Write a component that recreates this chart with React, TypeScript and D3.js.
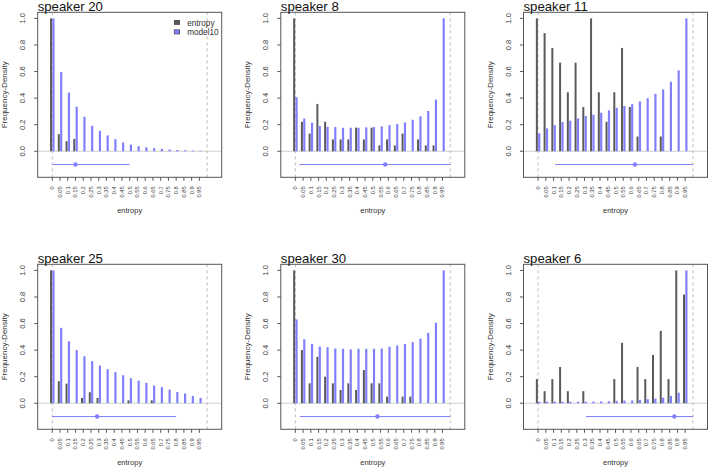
import { useEffect, useRef } from 'react';
import * as d3 from 'd3';

// bins along the entropy axis
const bins = [0, 0.05, 0.1, 0.15, 0.2, 0.25, 0.3, 0.35, 0.4, 0.45, 0.5, 0.55, 0.6, 0.65, 0.7, 0.75, 0.8, 0.85, 0.9, 0.95];
const binLabels = ["0", "0.05", "0.1", "0.15", "0.2", "0.25", "0.3", "0.35", "0.4", "0.45", "0.5", "0.55", "0.6", "0.65", "0.7", "0.75", "0.8", "0.85", "0.9", "0.95"];
const yTicks = [0, 0.2, 0.4, 0.6, 0.8, 1.0];
const yTickLabels = ["0.0", "0.2", "0.4", "0.6", "0.8", "1.0"];
const seriesNames = ["entropy", "model10"];

const speaker20Entropy = [1, 0.129, 0.076, 0.093, 0, 0, 0, 0, 0, 0, 0, 0, 0, 0, 0, 0, 0, 0, 0, 0];
const speaker20Model = [1, 0.596, 0.442, 0.336, 0.26, 0.192, 0.154, 0.119, 0.091, 0.066, 0.05, 0.038, 0.03, 0.023, 0.018, 0.013, 0.01, 0.008, 0.005, 0.004];
const speaker20Interval = [0, 0.5, 0.15];

const speaker8Entropy = [1, 0.222, 0.133, 0.356, 0.222, 0.089, 0.089, 0.089, 0.178, 0.089, 0.178, 0.044, 0.089, 0.044, 0.133, 0, 0.089, 0.044, 0.044, 0];
const speaker8Model = [0.407, 0.247, 0.215, 0.19, 0.184, 0.182, 0.177, 0.177, 0.177, 0.18, 0.182, 0.187, 0.197, 0.205, 0.217, 0.237, 0.263, 0.303, 0.389, 1];
const speaker8Interval = [0.025, 1, 0.58];

const speaker11Entropy = [1, 0.889, 0.778, 0.667, 0.444, 0.667, 0.333, 1, 0.444, 0.222, 0.444, 0.778, 0.333, 0.111, 0, 0, 0.111, 0, 0, 0];
const speaker11Model = [0.134, 0.172, 0.197, 0.22, 0.23, 0.247, 0.265, 0.275, 0.29, 0.308, 0.328, 0.341, 0.354, 0.376, 0.399, 0.432, 0.465, 0.523, 0.609, 1];
const speaker11Interval = [0.11, 1, 0.625];

const speaker25Entropy = [1, 0.166, 0.148, 0, 0.04, 0.083, 0.04, 0, 0, 0, 0.022, 0, 0, 0.022, 0, 0, 0, 0, 0, 0];
const speaker25Model = [1, 0.568, 0.467, 0.4, 0.354, 0.317, 0.284, 0.256, 0.234, 0.211, 0.188, 0.171, 0.153, 0.133, 0.121, 0.103, 0.085, 0.073, 0.055, 0.04];
const speaker25Interval = [0, 0.8, 0.29];

const speaker30Entropy = [1, 0.4, 0.15, 0.35, 0.2, 0.15, 0.1, 0.15, 0.1, 0.25, 0.15, 0.15, 0.05, 0, 0.05, 0.05, 0, 0, 0, 0];
const speaker30Model = [0.631, 0.482, 0.447, 0.427, 0.422, 0.412, 0.41, 0.405, 0.41, 0.41, 0.41, 0.412, 0.425, 0.435, 0.445, 0.46, 0.487, 0.53, 0.606, 1];
const speaker30Interval = [0.03, 1, 0.53];

const speaker6Entropy = [0.182, 0.091, 0.182, 0.273, 0.091, 0, 0.091, 0, 0, 0, 0.182, 0.455, 0, 0.273, 0.182, 0.364, 0.545, 0.182, 1, 0.818];
const speaker6Model = [0.012, 0.012, 0.012, 0.012, 0.012, 0.012, 0.012, 0.013, 0.014, 0.015, 0.018, 0.02, 0.022, 0.026, 0.03, 0.035, 0.042, 0.055, 0.08, 1];
const speaker6Interval = [0.31, 1, 0.88];

const panels = [
  { title: "speaker 20", entropy: speaker20Entropy, model: speaker20Model, interval: speaker20Interval, legend: true },
  { title: "speaker 8", entropy: speaker8Entropy, model: speaker8Model, interval: speaker8Interval },
  { title: "speaker 11", entropy: speaker11Entropy, model: speaker11Model, interval: speaker11Interval },
  { title: "speaker 25", entropy: speaker25Entropy, model: speaker25Model, interval: speaker25Interval },
  { title: "speaker 30", entropy: speaker30Entropy, model: speaker30Model, interval: speaker30Interval },
  { title: "speaker 6", entropy: speaker6Entropy, model: speaker6Model, interval: speaker6Interval },
];

const W = 708;
const H = 470;
const colLefts = [37.7, 280.8, 523.5];
const rowTops = [12.3, 264.3];
const boxW = 184;
const boxH = 165;
const GREY = "#5a5a5a";
const BLUE = "#8080ff";
const FONT = "Liberation Sans, Arial, Helvetica, sans-serif";

const App = () => {
  const svgRef = useRef(null);

  useEffect(() => {
    const svg = d3.select(svgRef.current);
    svg.selectAll("*").remove();
    svg.attr("width", W).attr("height", H).style("font-family", FONT);

    svg.append("rect").attr("width", W).attr("height", H).attr("fill", "white");

    panels.forEach((p, i) => {
      const left = colLefts[i % 3];
      const top = rowTops[Math.floor(i / 3)];
      const g = svg.append("g");

      // R style: xlim c(-0.05, 1.05), ylim c(-0.15, 1), 4% extension
      const x = d3.scaleLinear().domain([-0.094, 1.094]).range([left, left + boxW]);
      const y = d3.scaleLinear().domain([-0.196, 1.046]).range([top + boxH, top]);

      // zero line
      g.append("line")
        .attr("x1", left).attr("x2", left + boxW)
        .attr("y1", y(0)).attr("y2", y(0))
        .attr("stroke", "#cfcfcf").attr("stroke-width", 1);

      // dashed bounds at 0 and 1
      [0, 1].forEach(v => {
        g.append("line")
          .attr("x1", x(v)).attr("x2", x(v))
          .attr("y1", top).attr("y2", top + boxH)
          .attr("stroke", "#bdbdbd").attr("stroke-dasharray", "3,3").attr("stroke-width", 1);
      });

      // histogram-like bars
      g.selectAll(".ent")
        .data(bins)
        .enter()
        .append("line")
        .attr("x1", (d) => x(d) - 1.2).attr("x2", (d) => x(d) - 1.2)
        .attr("y1", y(0)).attr("y2", (d, j) => y(p.entropy[j]))
        .attr("stroke", GREY).attr("stroke-width", 2);

      g.selectAll(".mod")
        .data(bins)
        .enter()
        .append("line")
        .attr("x1", (d) => x(d) + 1.2).attr("x2", (d) => x(d) + 1.2)
        .attr("y1", y(0)).attr("y2", (d, j) => y(p.model[j]))
        .attr("stroke", BLUE).attr("stroke-width", 2.2);

      // interval with point estimate
      const [lo, hi, mid] = p.interval;
      g.append("line")
        .attr("x1", x(lo)).attr("x2", x(hi))
        .attr("y1", y(-0.1)).attr("y2", y(-0.1))
        .attr("stroke", BLUE).attr("stroke-width", 1);
      g.append("circle")
        .attr("cx", x(mid)).attr("cy", y(-0.1)).attr("r", 2.2)
        .attr("fill", BLUE);

      // box
      g.append("rect")
        .attr("x", left).attr("y", top)
        .attr("width", boxW).attr("height", boxH)
        .attr("fill", "none").attr("stroke", "#555").attr("stroke-width", 1);

      // y axis
      yTicks.forEach((t, j) => {
        g.append("line")
          .attr("x1", left - 3.5).attr("x2", left)
          .attr("y1", y(t)).attr("y2", y(t))
          .attr("stroke", "#555");
        g.append("text")
          .attr("transform", `translate(${left - 12.5},${y(t)}) rotate(-90)`)
          .attr("text-anchor", "middle")
          .attr("font-size", 7.5)
          .attr("fill", "#333")
          .text(yTickLabels[j]);
      });

      // x axis
      bins.forEach((b, j) => {
        g.append("line")
          .attr("x1", x(b)).attr("x2", x(b))
          .attr("y1", top + boxH).attr("y2", top + boxH + 3.5)
          .attr("stroke", "#555");
        g.append("text")
          .attr("transform", `translate(${x(b) + 2},${top + boxH + 9}) rotate(-90)`)
          .attr("text-anchor", "end")
          .attr("font-size", 5.7)
          .attr("fill", "#333")
          .text(binLabels[j]);
      });

      g.append("text")
        .attr("x", left + boxW / 2).attr("y", top + boxH + 35.5)
        .attr("text-anchor", "middle")
        .attr("font-size", 7.5)
        .attr("fill", "#333")
        .text("entropy");

      g.append("text")
        .attr("transform", `translate(${left - 31},${top + boxH / 2}) rotate(-90)`)
        .attr("text-anchor", "middle")
        .attr("font-size", 8)
        .attr("fill", "#333")
        .text("Frequency-Density");

      g.append("text")
        .attr("x", left).attr("y", top - 1.6)
        .attr("font-size", 13.2)
        .attr("fill", "#111")
        .text(p.title);

      if (p.legend) {
        [GREY, BLUE].forEach((c, j) => {
          g.append("rect")
            .attr("x", left + 136.5).attr("y", top + 8 + j * 9.5)
            .attr("width", 5.5).attr("height", 4.2)
            .attr("fill", c).attr("stroke", "#333").attr("stroke-width", 0.6);
          g.append("text")
            .attr("x", left + 149.5).attr("y", top + 13.3 + j * 9.5)
            .attr("font-size", 8.2)
            .attr("fill", "#333")
            .text(seriesNames[j]);
        });
      }
    });
  }, []);

  return (
    <svg ref={svgRef} style={{ position: 'absolute', left: 0, top: 0 }}></svg>
  );
};

export default App;
